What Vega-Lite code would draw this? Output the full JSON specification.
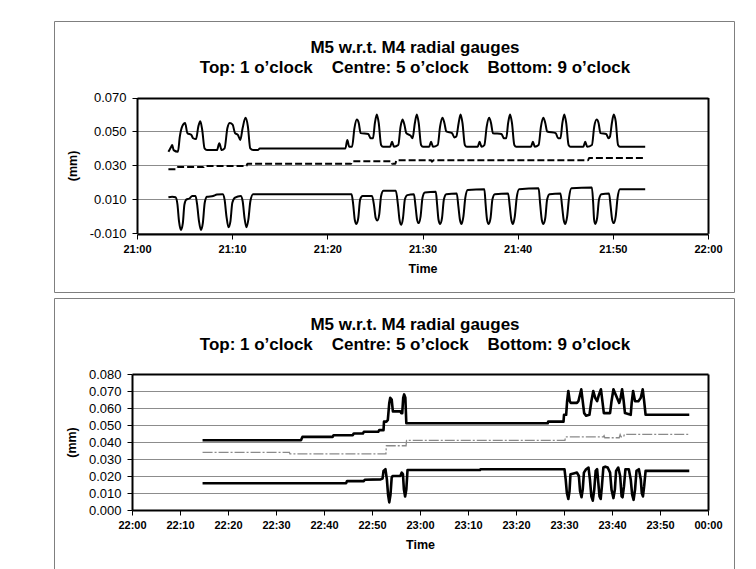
{
  "$schema": "https://vega.github.io/schema/vega-lite/v6.json",
  "background": "white",
  "padding": {"left": 53, "top": 20, "right": 20, "bottom": 0},
  "autosize": {"type": "pad"},
  "spacing": 4,
  "config": {
    "font": "Liberation Sans",
    "view": {"stroke": "#7f7f7f", "strokeWidth": 1, "fill": "white"},
    "axis": {"domainColor": "black", "domainWidth": 2, "tickColor": "black", "tickWidth": 1, "tickSize": 5, "labelColor": "black", "titleColor": "black", "titleFontWeight": "bold", "labelOverlap": false, "labelFlush": false},
    "axisX": {"labelFontSize": 11, "labelFontWeight": "bold", "labelPadding": 4, "titleFontSize": 12.5, "titlePadding": 8},
    "axisY": {"labelFontSize": 13, "labelFontWeight": "normal", "labelPadding": 6, "titleFontSize": 12.5, "titlePadding": 10},
    "title": {"fontSize": 17, "fontWeight": "bold", "color": "black", "anchor": "middle", "frame": "group", "offset": -56, "dx": 21, "lineHeight": 20}
  },
  "datasets": {
    "g1": [
      {"t":"21:03:18","s":"1 o'clock","v":0.038},{"t":"21:03:33","s":"1 o'clock","v":0.0405},{"t":"21:03:42","s":"1 o'clock","v":0.042},{"t":"21:03:51","s":"1 o'clock","v":0.039},{"t":"21:04:18","s":"1 o'clock","v":0.038},{"t":"21:04:30","s":"1 o'clock","v":0.047},{"t":"21:04:45","s":"1 o'clock","v":0.053},{"t":"21:05:03","s":"1 o'clock","v":0.055},{"t":"21:05:18","s":"1 o'clock","v":0.049},{"t":"21:05:42","s":"1 o'clock","v":0.048},{"t":"21:05:54","s":"1 o'clock","v":0.046},{"t":"21:06:12","s":"1 o'clock","v":0.0455},{"t":"21:06:27","s":"1 o'clock","v":0.053},{"t":"21:06:39","s":"1 o'clock","v":0.056},{"t":"21:06:51","s":"1 o'clock","v":0.051},{"t":"21:07:06","s":"1 o'clock","v":0.040},{"t":"21:07:21","s":"1 o'clock","v":0.039},{"t":"21:08:24","s":"1 o'clock","v":0.039},{"t":"21:08:39","s":"1 o'clock","v":0.043},{"t":"21:08:54","s":"1 o'clock","v":0.039},{"t":"21:09:12","s":"1 o'clock","v":0.040},{"t":"21:09:30","s":"1 o'clock","v":0.052},{"t":"21:09:45","s":"1 o'clock","v":0.055},{"t":"21:10:03","s":"1 o'clock","v":0.054},{"t":"21:10:18","s":"1 o'clock","v":0.049},{"t":"21:10:36","s":"1 o'clock","v":0.048},{"t":"21:10:51","s":"1 o'clock","v":0.045},{"t":"21:11:06","s":"1 o'clock","v":0.052},{"t":"21:11:24","s":"1 o'clock","v":0.058},{"t":"21:11:39","s":"1 o'clock","v":0.053},{"t":"21:11:54","s":"1 o'clock","v":0.040},{"t":"21:12:12","s":"1 o'clock","v":0.039},{"t":"21:12:42","s":"1 o'clock","v":0.039},{"t":"21:12:54","s":"1 o'clock","v":0.040},
      {"t":"21:21:54","s":"1 o'clock","v":0.040},{"t":"21:22:06","s":"1 o'clock","v":0.045},{"t":"21:22:18","s":"1 o'clock","v":0.041},{"t":"21:22:36","s":"1 o'clock","v":0.041},{"t":"21:22:51","s":"1 o'clock","v":0.052},{"t":"21:23:06","s":"1 o'clock","v":0.057},{"t":"21:23:18","s":"1 o'clock","v":0.055},{"t":"21:23:30","s":"1 o'clock","v":0.049},{"t":"21:24:18","s":"1 o'clock","v":0.0485},{"t":"21:24:33","s":"1 o'clock","v":0.046},{"t":"21:24:48","s":"1 o'clock","v":0.046},{"t":"21:25:00","s":"1 o'clock","v":0.055},{"t":"21:25:12","s":"1 o'clock","v":0.060},{"t":"21:25:24","s":"1 o'clock","v":0.055},{"t":"21:25:39","s":"1 o'clock","v":0.042},{"t":"21:25:51","s":"1 o'clock","v":0.041},
      {"t":"21:26:36","s":"1 o'clock","v":0.041},{"t":"21:26:48","s":"1 o'clock","v":0.044},{"t":"21:27:00","s":"1 o'clock","v":0.041},{"t":"21:27:27","s":"1 o'clock","v":0.042},{"t":"21:27:42","s":"1 o'clock","v":0.053},{"t":"21:27:54","s":"1 o'clock","v":0.057},{"t":"21:28:06","s":"1 o'clock","v":0.054},{"t":"21:28:18","s":"1 o'clock","v":0.049},{"t":"21:28:45","s":"1 o'clock","v":0.0475},{"t":"21:28:57","s":"1 o'clock","v":0.046},{"t":"21:29:12","s":"1 o'clock","v":0.055},{"t":"21:29:24","s":"1 o'clock","v":0.060},{"t":"21:29:36","s":"1 o'clock","v":0.055},{"t":"21:29:51","s":"1 o'clock","v":0.042},{"t":"21:30:03","s":"1 o'clock","v":0.041},
      {"t":"21:30:42","s":"1 o'clock","v":0.041},{"t":"21:30:54","s":"1 o'clock","v":0.044},{"t":"21:31:06","s":"1 o'clock","v":0.041},{"t":"21:31:36","s":"1 o'clock","v":0.042},{"t":"21:31:51","s":"1 o'clock","v":0.053},{"t":"21:32:06","s":"1 o'clock","v":0.058},{"t":"21:32:18","s":"1 o'clock","v":0.055},{"t":"21:32:30","s":"1 o'clock","v":0.050},{"t":"21:33:06","s":"1 o'clock","v":0.049},{"t":"21:33:21","s":"1 o'clock","v":0.0465},{"t":"21:33:33","s":"1 o'clock","v":0.047},{"t":"21:33:48","s":"1 o'clock","v":0.055},{"t":"21:34:00","s":"1 o'clock","v":0.060},{"t":"21:34:12","s":"1 o'clock","v":0.055},{"t":"21:34:27","s":"1 o'clock","v":0.042},{"t":"21:34:39","s":"1 o'clock","v":0.041},
      {"t":"21:35:48","s":"1 o'clock","v":0.041},{"t":"21:36:00","s":"1 o'clock","v":0.044},{"t":"21:36:12","s":"1 o'clock","v":0.041},{"t":"21:36:30","s":"1 o'clock","v":0.042},{"t":"21:36:45","s":"1 o'clock","v":0.053},{"t":"21:37:00","s":"1 o'clock","v":0.058},{"t":"21:37:12","s":"1 o'clock","v":0.055},{"t":"21:37:24","s":"1 o'clock","v":0.049},{"t":"21:38:18","s":"1 o'clock","v":0.0485},{"t":"21:38:33","s":"1 o'clock","v":0.046},{"t":"21:38:48","s":"1 o'clock","v":0.046},{"t":"21:39:00","s":"1 o'clock","v":0.055},{"t":"21:39:12","s":"1 o'clock","v":0.060},{"t":"21:39:24","s":"1 o'clock","v":0.055},{"t":"21:39:39","s":"1 o'clock","v":0.042},{"t":"21:39:51","s":"1 o'clock","v":0.041},
      {"t":"21:41:24","s":"1 o'clock","v":0.041},{"t":"21:41:36","s":"1 o'clock","v":0.044},{"t":"21:41:48","s":"1 o'clock","v":0.041},{"t":"21:42:12","s":"1 o'clock","v":0.042},{"t":"21:42:27","s":"1 o'clock","v":0.053},{"t":"21:42:42","s":"1 o'clock","v":0.058},{"t":"21:42:54","s":"1 o'clock","v":0.055},{"t":"21:43:06","s":"1 o'clock","v":0.050},{"t":"21:44:00","s":"1 o'clock","v":0.049},{"t":"21:44:15","s":"1 o'clock","v":0.046},{"t":"21:44:30","s":"1 o'clock","v":0.046},{"t":"21:44:42","s":"1 o'clock","v":0.055},{"t":"21:44:54","s":"1 o'clock","v":0.060},{"t":"21:45:06","s":"1 o'clock","v":0.055},{"t":"21:45:21","s":"1 o'clock","v":0.042},{"t":"21:45:33","s":"1 o'clock","v":0.041},
      {"t":"21:46:54","s":"1 o'clock","v":0.041},{"t":"21:47:06","s":"1 o'clock","v":0.044},{"t":"21:47:18","s":"1 o'clock","v":0.041},{"t":"21:47:48","s":"1 o'clock","v":0.042},{"t":"21:48:03","s":"1 o'clock","v":0.053},{"t":"21:48:18","s":"1 o'clock","v":0.057},{"t":"21:48:30","s":"1 o'clock","v":0.055},{"t":"21:48:42","s":"1 o'clock","v":0.049},{"t":"21:49:18","s":"1 o'clock","v":0.0485},{"t":"21:49:33","s":"1 o'clock","v":0.046},{"t":"21:49:42","s":"1 o'clock","v":0.047},{"t":"21:49:54","s":"1 o'clock","v":0.055},{"t":"21:50:06","s":"1 o'clock","v":0.060},{"t":"21:50:18","s":"1 o'clock","v":0.056},{"t":"21:50:33","s":"1 o'clock","v":0.042},{"t":"21:50:45","s":"1 o'clock","v":0.041},{"t":"21:53:24","s":"1 o'clock","v":0.041},
      {"t":"21:03:18","s":"5 o'clock","v":0.0278},{"t":"21:04:12","s":"5 o'clock","v":0.0278},{"t":"21:04:18","s":"5 o'clock","v":0.029},{"t":"21:07:00","s":"5 o'clock","v":0.029},{"t":"21:07:06","s":"5 o'clock","v":0.0297},{"t":"21:11:30","s":"5 o'clock","v":0.0297},{"t":"21:11:36","s":"5 o'clock","v":0.031},{"t":"21:22:30","s":"5 o'clock","v":0.031},{"t":"21:22:36","s":"5 o'clock","v":0.0325},{"t":"21:26:45","s":"5 o'clock","v":0.0325},{"t":"21:26:48","s":"5 o'clock","v":0.031},{"t":"21:27:09","s":"5 o'clock","v":0.031},{"t":"21:27:15","s":"5 o'clock","v":0.033},{"t":"21:30:54","s":"5 o'clock","v":0.033},{"t":"21:31:00","s":"5 o'clock","v":0.0322},{"t":"21:31:09","s":"5 o'clock","v":0.033},{"t":"21:47:24","s":"5 o'clock","v":0.033},{"t":"21:47:30","s":"5 o'clock","v":0.0343},{"t":"21:53:24","s":"5 o'clock","v":0.0343},
      {"t":"21:03:18","s":"9 o'clock","v":0.0112},{"t":"21:03:42","s":"9 o'clock","v":0.0115},{"t":"21:04:03","s":"9 o'clock","v":0.0112},{"t":"21:04:15","s":"9 o'clock","v":0.007},{"t":"21:04:25","s":"9 o'clock","v":-0.003},{"t":"21:04:37","s":"9 o'clock","v":-0.008},{"t":"21:04:49","s":"9 o'clock","v":-0.004},{"t":"21:04:59","s":"9 o'clock","v":0.007},{"t":"21:05:12","s":"9 o'clock","v":0.010},{"t":"21:05:30","s":"9 o'clock","v":0.0105},{"t":"21:05:48","s":"9 o'clock","v":0.012},{"t":"21:06:09","s":"9 o'clock","v":0.012},{"t":"21:06:19","s":"9 o'clock","v":0.007},{"t":"21:06:31","s":"9 o'clock","v":-0.003},{"t":"21:06:43","s":"9 o'clock","v":-0.008},{"t":"21:06:55","s":"9 o'clock","v":-0.004},{"t":"21:07:07","s":"9 o'clock","v":0.008},{"t":"21:07:21","s":"9 o'clock","v":0.0115},{"t":"21:08:00","s":"9 o'clock","v":0.012},{"t":"21:08:24","s":"9 o'clock","v":0.0128},{"t":"21:09:00","s":"9 o'clock","v":0.013},{"t":"21:09:12","s":"9 o'clock","v":0.010},{"t":"21:09:24","s":"9 o'clock","v":0.000},{"t":"21:09:37","s":"9 o'clock","v":-0.0065},{"t":"21:09:49","s":"9 o'clock","v":-0.003},{"t":"21:10:01","s":"9 o'clock","v":0.008},{"t":"21:10:18","s":"9 o'clock","v":0.011},{"t":"21:10:54","s":"9 o'clock","v":0.012},{"t":"21:11:06","s":"9 o'clock","v":0.009},{"t":"21:11:18","s":"9 o'clock","v":-0.001},{"t":"21:11:30","s":"9 o'clock","v":-0.0065},{"t":"21:11:42","s":"9 o'clock","v":-0.002},{"t":"21:11:55","s":"9 o'clock","v":0.009},{"t":"21:12:12","s":"9 o'clock","v":0.013},
      {"t":"21:22:33","s":"9 o'clock","v":0.013},{"t":"21:22:43","s":"9 o'clock","v":0.007},{"t":"21:22:53","s":"9 o'clock","v":-0.002},{"t":"21:23:03","s":"9 o'clock","v":-0.0045},{"t":"21:23:15","s":"9 o'clock","v":-0.001},{"t":"21:23:27","s":"9 o'clock","v":0.010},{"t":"21:23:42","s":"9 o'clock","v":0.012},{"t":"21:24:42","s":"9 o'clock","v":0.012},{"t":"21:24:55","s":"9 o'clock","v":0.006},{"t":"21:25:05","s":"9 o'clock","v":-0.001},{"t":"21:25:15","s":"9 o'clock","v":-0.0025},{"t":"21:25:27","s":"9 o'clock","v":0.001},{"t":"21:25:39","s":"9 o'clock","v":0.012},{"t":"21:25:54","s":"9 o'clock","v":0.015},{"t":"21:27:12","s":"9 o'clock","v":0.015},
      {"t":"21:27:25","s":"9 o'clock","v":0.007},{"t":"21:27:35","s":"9 o'clock","v":-0.002},{"t":"21:27:45","s":"9 o'clock","v":-0.005},{"t":"21:27:57","s":"9 o'clock","v":-0.001},{"t":"21:28:09","s":"9 o'clock","v":0.010},{"t":"21:28:24","s":"9 o'clock","v":0.0125},{"t":"21:29:06","s":"9 o'clock","v":0.013},{"t":"21:29:16","s":"9 o'clock","v":0.006},{"t":"21:29:26","s":"9 o'clock","v":-0.002},{"t":"21:29:36","s":"9 o'clock","v":-0.004},{"t":"21:29:48","s":"9 o'clock","v":0.000},{"t":"21:30:00","s":"9 o'clock","v":0.011},{"t":"21:30:15","s":"9 o'clock","v":0.014},{"t":"21:31:24","s":"9 o'clock","v":0.0145},
      {"t":"21:31:32","s":"9 o'clock","v":0.007},{"t":"21:31:41","s":"9 o'clock","v":-0.002},{"t":"21:31:51","s":"9 o'clock","v":-0.0045},{"t":"21:32:03","s":"9 o'clock","v":-0.001},{"t":"21:32:15","s":"9 o'clock","v":0.010},{"t":"21:32:30","s":"9 o'clock","v":0.013},{"t":"21:33:36","s":"9 o'clock","v":0.0135},{"t":"21:33:46","s":"9 o'clock","v":0.006},{"t":"21:33:56","s":"9 o'clock","v":-0.002},{"t":"21:34:06","s":"9 o'clock","v":-0.0045},{"t":"21:34:18","s":"9 o'clock","v":0.000},{"t":"21:34:30","s":"9 o'clock","v":0.011},{"t":"21:34:45","s":"9 o'clock","v":0.0155},{"t":"21:36:30","s":"9 o'clock","v":0.016},
      {"t":"21:36:38","s":"9 o'clock","v":0.007},{"t":"21:36:47","s":"9 o'clock","v":-0.002},{"t":"21:36:57","s":"9 o'clock","v":-0.0045},{"t":"21:37:09","s":"9 o'clock","v":-0.001},{"t":"21:37:21","s":"9 o'clock","v":0.010},{"t":"21:37:36","s":"9 o'clock","v":0.013},{"t":"21:39:00","s":"9 o'clock","v":0.0135},{"t":"21:39:10","s":"9 o'clock","v":0.006},{"t":"21:39:20","s":"9 o'clock","v":-0.002},{"t":"21:39:30","s":"9 o'clock","v":-0.0045},{"t":"21:39:42","s":"9 o'clock","v":0.000},{"t":"21:39:54","s":"9 o'clock","v":0.011},{"t":"21:40:09","s":"9 o'clock","v":0.016},{"t":"21:42:12","s":"9 o'clock","v":0.0165},
      {"t":"21:42:22","s":"9 o'clock","v":0.007},{"t":"21:42:32","s":"9 o'clock","v":-0.002},{"t":"21:42:42","s":"9 o'clock","v":-0.0045},{"t":"21:42:54","s":"9 o'clock","v":-0.001},{"t":"21:43:06","s":"9 o'clock","v":0.010},{"t":"21:43:21","s":"9 o'clock","v":0.013},{"t":"21:44:30","s":"9 o'clock","v":0.0135},{"t":"21:44:40","s":"9 o'clock","v":0.006},{"t":"21:44:50","s":"9 o'clock","v":-0.002},{"t":"21:45:00","s":"9 o'clock","v":-0.0045},{"t":"21:45:12","s":"9 o'clock","v":0.000},{"t":"21:45:24","s":"9 o'clock","v":0.011},{"t":"21:45:39","s":"9 o'clock","v":0.0165},{"t":"21:47:48","s":"9 o'clock","v":0.017},
      {"t":"21:47:56","s":"9 o'clock","v":0.008},{"t":"21:48:02","s":"9 o'clock","v":-0.002},{"t":"21:48:09","s":"9 o'clock","v":-0.0045},{"t":"21:48:21","s":"9 o'clock","v":-0.001},{"t":"21:48:33","s":"9 o'clock","v":0.010},{"t":"21:48:48","s":"9 o'clock","v":0.013},{"t":"21:49:36","s":"9 o'clock","v":0.0135},{"t":"21:49:46","s":"9 o'clock","v":0.006},{"t":"21:49:56","s":"9 o'clock","v":-0.002},{"t":"21:50:06","s":"9 o'clock","v":-0.004},{"t":"21:50:18","s":"9 o'clock","v":0.000},{"t":"21:50:30","s":"9 o'clock","v":0.011},{"t":"21:50:45","s":"9 o'clock","v":0.016},{"t":"21:53:24","s":"9 o'clock","v":0.016}
    ],
    "g2": [
      {"t":"22:14:42","s":"1 o'clock","v":0.041},{"t":"22:35:12","s":"1 o'clock","v":0.041},{"t":"22:35:30","s":"1 o'clock","v":0.043},{"t":"22:41:48","s":"1 o'clock","v":0.043},{"t":"22:42:00","s":"1 o'clock","v":0.044},{"t":"22:46:00","s":"1 o'clock","v":0.044},{"t":"22:46:12","s":"1 o'clock","v":0.045},{"t":"22:48:06","s":"1 o'clock","v":0.045},{"t":"22:48:18","s":"1 o'clock","v":0.046},{"t":"22:51:18","s":"1 o'clock","v":0.046},{"t":"22:51:30","s":"1 o'clock","v":0.047},{"t":"22:52:24","s":"1 o'clock","v":0.047},{"t":"22:52:30","s":"1 o'clock","v":0.052},{"t":"22:53:00","s":"1 o'clock","v":0.052},{"t":"22:53:18","s":"1 o'clock","v":0.053},{"t":"22:53:36","s":"1 o'clock","v":0.063},{"t":"22:53:48","s":"1 o'clock","v":0.066},{"t":"22:54:06","s":"1 o'clock","v":0.065},{"t":"22:54:21","s":"1 o'clock","v":0.058},{"t":"22:55:54","s":"1 o'clock","v":0.058},{"t":"22:56:06","s":"1 o'clock","v":0.057},{"t":"22:56:18","s":"1 o'clock","v":0.057},{"t":"22:56:30","s":"1 o'clock","v":0.066},{"t":"22:56:42","s":"1 o'clock","v":0.068},{"t":"22:56:57","s":"1 o'clock","v":0.066},{"t":"22:57:09","s":"1 o'clock","v":0.051},{"t":"23:26:36","s":"1 o'clock","v":0.051},{"t":"23:26:42","s":"1 o'clock","v":0.052},{"t":"23:29:54","s":"1 o'clock","v":0.052},{"t":"23:30:00","s":"1 o'clock","v":0.056},{"t":"23:30:27","s":"1 o'clock","v":0.056},{"t":"23:30:39","s":"1 o'clock","v":0.064},{"t":"23:30:54","s":"1 o'clock","v":0.070},{"t":"23:31:12","s":"1 o'clock","v":0.064},{"t":"23:31:24","s":"1 o'clock","v":0.063},{"t":"23:32:42","s":"1 o'clock","v":0.063},{"t":"23:33:00","s":"1 o'clock","v":0.064},{"t":"23:33:36","s":"1 o'clock","v":0.071},{"t":"23:33:54","s":"1 o'clock","v":0.064},{"t":"23:34:12","s":"1 o'clock","v":0.057},{"t":"23:34:36","s":"1 o'clock","v":0.0555},{"t":"23:35:18","s":"1 o'clock","v":0.056},{"t":"23:35:42","s":"1 o'clock","v":0.064},{"t":"23:36:06","s":"1 o'clock","v":0.070},{"t":"23:36:30","s":"1 o'clock","v":0.066},{"t":"23:36:54","s":"1 o'clock","v":0.064},{"t":"23:37:18","s":"1 o'clock","v":0.068},{"t":"23:37:42","s":"1 o'clock","v":0.071},{"t":"23:38:00","s":"1 o'clock","v":0.064},{"t":"23:38:18","s":"1 o'clock","v":0.057},{"t":"23:39:36","s":"1 o'clock","v":0.057},{"t":"23:39:54","s":"1 o'clock","v":0.064},{"t":"23:40:18","s":"1 o'clock","v":0.071},{"t":"23:40:36","s":"1 o'clock","v":0.069},{"t":"23:41:30","s":"1 o'clock","v":0.063},{"t":"23:41:48","s":"1 o'clock","v":0.066},{"t":"23:42:06","s":"1 o'clock","v":0.071},{"t":"23:42:24","s":"1 o'clock","v":0.065},{"t":"23:42:42","s":"1 o'clock","v":0.057},{"t":"23:43:54","s":"1 o'clock","v":0.056},{"t":"23:44:06","s":"1 o'clock","v":0.063},{"t":"23:44:24","s":"1 o'clock","v":0.070},{"t":"23:44:48","s":"1 o'clock","v":0.064},{"t":"23:45:30","s":"1 o'clock","v":0.064},{"t":"23:46:00","s":"1 o'clock","v":0.066},{"t":"23:46:24","s":"1 o'clock","v":0.071},{"t":"23:46:42","s":"1 o'clock","v":0.064},{"t":"23:47:00","s":"1 o'clock","v":0.056},{"t":"23:56:06","s":"1 o'clock","v":0.056},
      {"t":"22:14:42","s":"5 o'clock","v":0.0339},{"t":"22:32:48","s":"5 o'clock","v":0.0339},{"t":"22:32:54","s":"5 o'clock","v":0.033},{"t":"22:52:54","s":"5 o'clock","v":0.033},{"t":"22:53:00","s":"5 o'clock","v":0.0378},{"t":"22:57:06","s":"5 o'clock","v":0.0378},{"t":"22:57:12","s":"5 o'clock","v":0.041},{"t":"23:30:12","s":"5 o'clock","v":0.041},{"t":"23:30:18","s":"5 o'clock","v":0.043},{"t":"23:38:12","s":"5 o'clock","v":0.043},{"t":"23:38:21","s":"5 o'clock","v":0.0437},{"t":"23:38:30","s":"5 o'clock","v":0.0425},{"t":"23:41:30","s":"5 o'clock","v":0.0425},{"t":"23:41:42","s":"5 o'clock","v":0.0443},{"t":"23:41:54","s":"5 o'clock","v":0.043},{"t":"23:42:24","s":"5 o'clock","v":0.043},{"t":"23:42:36","s":"5 o'clock","v":0.0445},{"t":"23:56:06","s":"5 o'clock","v":0.0445},
      {"t":"22:14:42","s":"9 o'clock","v":0.0157},{"t":"22:44:36","s":"9 o'clock","v":0.0157},{"t":"22:44:48","s":"9 o'clock","v":0.017},{"t":"22:48:18","s":"9 o'clock","v":0.017},{"t":"22:48:30","s":"9 o'clock","v":0.0178},{"t":"22:51:48","s":"9 o'clock","v":0.018},{"t":"22:52:12","s":"9 o'clock","v":0.0185},{"t":"22:52:24","s":"9 o'clock","v":0.023},{"t":"22:52:48","s":"9 o'clock","v":0.024},{"t":"22:53:06","s":"9 o'clock","v":0.018},{"t":"22:53:21","s":"9 o'clock","v":0.009},{"t":"22:53:36","s":"9 o'clock","v":0.0045},{"t":"22:53:51","s":"9 o'clock","v":0.009},{"t":"22:54:06","s":"9 o'clock","v":0.019},{"t":"22:54:18","s":"9 o'clock","v":0.020},{"t":"22:55:54","s":"9 o'clock","v":0.020},{"t":"22:56:12","s":"9 o'clock","v":0.022},{"t":"22:56:27","s":"9 o'clock","v":0.021},{"t":"22:56:39","s":"9 o'clock","v":0.012},{"t":"22:56:54","s":"9 o'clock","v":0.008},{"t":"22:57:09","s":"9 o'clock","v":0.012},{"t":"22:57:24","s":"9 o'clock","v":0.0235},{"t":"23:12:30","s":"9 o'clock","v":0.0235},{"t":"23:12:36","s":"9 o'clock","v":0.024},{"t":"23:30:06","s":"9 o'clock","v":0.024},{"t":"23:30:21","s":"9 o'clock","v":0.018},{"t":"23:30:36","s":"9 o'clock","v":0.010},{"t":"23:30:54","s":"9 o'clock","v":0.0065},{"t":"23:31:09","s":"9 o'clock","v":0.011},{"t":"23:31:21","s":"9 o'clock","v":0.021},{"t":"23:32:00","s":"9 o'clock","v":0.0215},{"t":"23:32:42","s":"9 o'clock","v":0.022},{"t":"23:33:06","s":"9 o'clock","v":0.020},{"t":"23:33:21","s":"9 o'clock","v":0.011},{"t":"23:33:39","s":"9 o'clock","v":0.0075},{"t":"23:33:54","s":"9 o'clock","v":0.012},{"t":"23:34:09","s":"9 o'clock","v":0.022},{"t":"23:34:36","s":"9 o'clock","v":0.024},{"t":"23:35:06","s":"9 o'clock","v":0.025},{"t":"23:35:24","s":"9 o'clock","v":0.018},{"t":"23:35:42","s":"9 o'clock","v":0.008},{"t":"23:36:00","s":"9 o'clock","v":0.0055},{"t":"23:36:18","s":"9 o'clock","v":0.012},{"t":"23:36:36","s":"9 o'clock","v":0.023},{"t":"23:36:54","s":"9 o'clock","v":0.024},{"t":"23:37:09","s":"9 o'clock","v":0.016},{"t":"23:37:24","s":"9 o'clock","v":0.008},{"t":"23:37:39","s":"9 o'clock","v":0.0065},{"t":"23:37:54","s":"9 o'clock","v":0.014},{"t":"23:38:12","s":"9 o'clock","v":0.025},{"t":"23:38:36","s":"9 o'clock","v":0.0255},{"t":"23:39:06","s":"9 o'clock","v":0.025},{"t":"23:39:36","s":"9 o'clock","v":0.022},{"t":"23:39:54","s":"9 o'clock","v":0.012},{"t":"23:40:18","s":"9 o'clock","v":0.007},{"t":"23:40:36","s":"9 o'clock","v":0.012},{"t":"23:40:51","s":"9 o'clock","v":0.023},{"t":"23:41:18","s":"9 o'clock","v":0.025},{"t":"23:41:42","s":"9 o'clock","v":0.020},{"t":"23:42:00","s":"9 o'clock","v":0.008},{"t":"23:42:12","s":"9 o'clock","v":0.0075},{"t":"23:42:30","s":"9 o'clock","v":0.014},{"t":"23:42:48","s":"9 o'clock","v":0.024},{"t":"23:43:30","s":"9 o'clock","v":0.024},{"t":"23:43:54","s":"9 o'clock","v":0.018},{"t":"23:44:12","s":"9 o'clock","v":0.009},{"t":"23:44:30","s":"9 o'clock","v":0.006},{"t":"23:44:48","s":"9 o'clock","v":0.012},{"t":"23:45:06","s":"9 o'clock","v":0.023},{"t":"23:45:36","s":"9 o'clock","v":0.024},{"t":"23:46:00","s":"9 o'clock","v":0.018},{"t":"23:46:12","s":"9 o'clock","v":0.010},{"t":"23:46:27","s":"9 o'clock","v":0.008},{"t":"23:46:42","s":"9 o'clock","v":0.014},{"t":"23:47:00","s":"9 o'clock","v":0.023},{"t":"23:56:06","s":"9 o'clock","v":0.023}
    ]
  },
  "vconcat": [
    {
      "width": 680,
      "height": 271,
      "title": {"text": ["M5 w.r.t. M4 radial gauges", "Top: 1 o’clock\u00a0\u00a0\u00a0\u00a0Centre: 5 o’clock\u00a0\u00a0\u00a0\u00a0Bottom: 9 o’clock"]},
      "data": {"name": "g1", "format": {"parse": {"t": "date:'%H:%M:%S'"}}},
      "resolve": {"axis": {"y": "independent"}},
      "encoding": {
        "x": {
          "field": "t", "type": "temporal",
          "scale": {"domain": [{"year": 1900, "month": 1, "date": 1, "hours": 21, "minutes": 0}, {"year": 1900, "month": 1, "date": 1, "hours": 22, "minutes": 0}], "range": [83, 654], "nice": false},
          "axis": {
            "title": "Time", "offset": -58, "format": "%H:%M", "grid": false,
            "values": [{"year": 1900, "month": 1, "date": 1, "hours": 21, "minutes": 0}, {"year": 1900, "month": 1, "date": 1, "hours": 21, "minutes": 10}, {"year": 1900, "month": 1, "date": 1, "hours": 21, "minutes": 20}, {"year": 1900, "month": 1, "date": 1, "hours": 21, "minutes": 30}, {"year": 1900, "month": 1, "date": 1, "hours": 21, "minutes": 40}, {"year": 1900, "month": 1, "date": 1, "hours": 21, "minutes": 50}, {"year": 1900, "month": 1, "date": 1, "hours": 22, "minutes": 0}]
          }
        }
      },
      "layer": [
        {
          "transform": [{"filter": {"not": {"field": "s", "equal": "5 o'clock"}}}],
          "mark": {"type": "line", "interpolate": "monotone", "strokeJoin": "round", "color": "black", "strokeWidth": 2},
          "encoding": {
            "y": {
              "field": "v", "type": "quantitative",
              "scale": {"domain": [-0.01, 0.07], "range": [212.3, 76.5], "nice": false, "zero": false},
              "axis": {
                "title": "(mm)", "offset": -83, "values": [-0.01, 0.01, 0.03, 0.05, 0.07],
                "labelExpr": "replace(format(datum.value, '.3f'), '\u2212', '-')",
                "grid": true,
                "gridColor": {"condition": {"test": "datum.value > 0.069", "value": "black"}, "value": "#8c8c8c"},
                "gridWidth": {"condition": {"test": "datum.value > 0.069", "value": 2}, "value": 1}
              }
            },
            "detail": {"field": "s", "type": "nominal"}
          }
        },
        {
          "transform": [{"filter": {"field": "s", "equal": "5 o'clock"}}],
          "mark": {"type": "line", "interpolate": "monotone", "color": "black", "strokeWidth": 2, "strokeDash": [7, 3]},
          "encoding": {
            "y": {
              "field": "v", "type": "quantitative",
              "scale": {"domain": [-0.01, 0.07], "range": [212.3, 76.5], "nice": false, "zero": false},
              "axis": {"orient": "right", "offset": -26, "labels": false, "ticks": false, "grid": false, "title": null, "domainColor": "black", "domainWidth": 2}
            }
          }
        }
      ]
    },
    {
      "width": 680,
      "height": 280,
      "title": {"text": ["M5 w.r.t. M4 radial gauges", "Top: 1 o’clock\u00a0\u00a0\u00a0\u00a0Centre: 5 o’clock\u00a0\u00a0\u00a0\u00a0Bottom: 9 o’clock"]},
      "data": {"name": "g2", "format": {"parse": {"t": "date:'%H:%M:%S'"}}},
      "resolve": {"axis": {"y": "independent"}},
      "encoding": {
        "x": {
          "field": "t", "type": "temporal",
          "scale": {"domain": [{"year": 1900, "month": 1, "date": 1, "hours": 22, "minutes": 0}, {"year": 1900, "month": 1, "date": 2, "hours": 0, "minutes": 0}], "range": [78, 654], "nice": false},
          "axis": {
            "title": "Time", "offset": -68, "format": "%H:%M", "grid": false,
            "values": [{"year": 1900, "month": 1, "date": 1, "hours": 22, "minutes": 0}, {"year": 1900, "month": 1, "date": 1, "hours": 22, "minutes": 10}, {"year": 1900, "month": 1, "date": 1, "hours": 22, "minutes": 20}, {"year": 1900, "month": 1, "date": 1, "hours": 22, "minutes": 30}, {"year": 1900, "month": 1, "date": 1, "hours": 22, "minutes": 40}, {"year": 1900, "month": 1, "date": 1, "hours": 22, "minutes": 50}, {"year": 1900, "month": 1, "date": 1, "hours": 23, "minutes": 0}, {"year": 1900, "month": 1, "date": 1, "hours": 23, "minutes": 10}, {"year": 1900, "month": 1, "date": 1, "hours": 23, "minutes": 20}, {"year": 1900, "month": 1, "date": 1, "hours": 23, "minutes": 30}, {"year": 1900, "month": 1, "date": 1, "hours": 23, "minutes": 40}, {"year": 1900, "month": 1, "date": 1, "hours": 23, "minutes": 50}, {"year": 1900, "month": 1, "date": 2, "hours": 0, "minutes": 0}]
          }
        }
      },
      "layer": [
        {
          "transform": [{"filter": {"not": {"field": "s", "equal": "5 o'clock"}}}],
          "mark": {"type": "line", "interpolate": "linear", "strokeJoin": "round", "color": "black", "strokeWidth": 2.6},
          "encoding": {
            "y": {
              "field": "v", "type": "quantitative",
              "scale": {"domain": [0, 0.08], "range": [212, 76], "nice": false, "zero": false},
              "axis": {
                "title": "(mm)", "offset": -78, "values": [0, 0.01, 0.02, 0.03, 0.04, 0.05, 0.06, 0.07, 0.08],
                "labelExpr": "replace(format(datum.value, '.3f'), '\u2212', '-')",
                "grid": true,
                "gridColor": {"condition": {"test": "datum.value > 0.079", "value": "black"}, "value": "#8c8c8c"},
                "gridWidth": {"condition": {"test": "datum.value > 0.079", "value": 2}, "value": 1}
              }
            },
            "detail": {"field": "s", "type": "nominal"}
          }
        },
        {
          "transform": [{"filter": {"field": "s", "equal": "5 o'clock"}}],
          "mark": {"type": "line", "interpolate": "linear", "color": "#8a8a8a", "strokeWidth": 1.3, "strokeDash": [10, 2, 2, 2]},
          "encoding": {
            "y": {
              "field": "v", "type": "quantitative",
              "scale": {"domain": [0, 0.08], "range": [212, 76], "nice": false, "zero": false},
              "axis": {"orient": "right", "offset": -26, "labels": false, "ticks": false, "grid": false, "title": null, "domainColor": "black", "domainWidth": 2}
            }
          }
        }
      ]
    }
  ]
}
